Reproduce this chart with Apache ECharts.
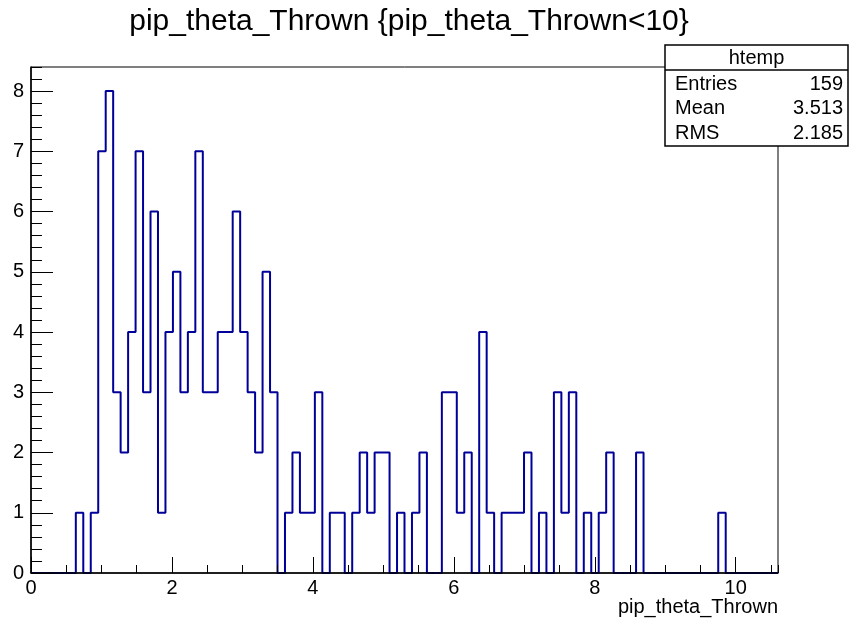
<!DOCTYPE html>
<html><head><meta charset="utf-8">
<script src="https://cdn.jsdelivr.net/npm/echarts@6/dist/echarts.min.js"></script>
<style>html,body{margin:0;padding:0;background:#fff}#c{width:850px;height:621px}</style>
</head><body><div id="c"></div>
<script>
const titleText = 'pip_theta_Thrown {pip_theta_Thrown<10}';
const xTitle = 'pip_theta_Thrown';
const xMin = 0, xMax = 10.6, nBins = 100;
const yMax = 8.4;
const counts = [
  0,0,0,0,0,0,1,0,1,7,
  8,3,2,4,7,3,6,1,4,5,
  3,4,7,3,3,4,4,6,4,3,
  2,5,3,0,1,2,1,1,3,0,
  1,1,0,1,2,1,2,2,0,1,
  0,1,2,0,0,3,3,1,2,0,
  4,1,0,1,1,1,2,0,1,0,
  3,1,3,0,1,0,1,2,0,0,
  0,2,0,0,0,0,0,0,0,0,
  0,0,1,0,0,0,0,0,0,0
];
const statsName = 'htemp';
const statsLabels = ['Entries', 'Mean', 'RMS'];
const statsValues = ['159', '3.513', '2.185'];

const FONT = 'Liberation Sans, Arial, sans-serif';
const binW = (xMax - xMin) / nBins;
const stepData = counts.map((c, i) => [xMin + i * binW, c]);
stepData.push([xMax, counts[counts.length - 1]]);

const chart = echarts.init(document.getElementById('c'), null, {renderer: 'canvas'});
const G = {left: 31, top: 67, width: 747, height: 506};
const statsBox = {x: 665, y: 45, w: 183, h: 101};
const graphics = [
  {type: 'rect', z: 100, shape: {x: statsBox.x, y: statsBox.y, width: statsBox.w, height: statsBox.h},
   style: {fill: '#fff', stroke: '#000', lineWidth: 1.5}},
  {type: 'line', z: 101, shape: {x1: statsBox.x, y1: 70, x2: statsBox.x + statsBox.w, y2: 70},
   style: {stroke: '#000', lineWidth: 1.5}},
  {type: 'text', z: 102, x: statsBox.x + statsBox.w / 2, y: 58,
   style: {text: statsName, font: '20px ' + FONT, fill: '#000', align: 'center', verticalAlign: 'middle'}},
  {type: 'text', z: 102, x: G.left + G.width, y: 607,
   style: {text: xTitle, font: '20px ' + FONT, fill: '#000', align: 'right', verticalAlign: 'middle'}}
];
statsLabels.forEach((lab, i) => {
  const cy = 84 + i * 24.5;
  graphics.push({type: 'text', z: 102, x: statsBox.x + 10, y: cy,
    style: {text: lab, font: '20px ' + FONT, fill: '#000', align: 'left', verticalAlign: 'middle'}});
  graphics.push({type: 'text', z: 102, x: statsBox.x + statsBox.w - 5, y: cy,
    style: {text: statsValues[i], font: '20px ' + FONT, fill: '#000', align: 'right', verticalAlign: 'middle'}});
});

chart.setOption({
  animation: false,
  backgroundColor: '#fff',
  title: {text: titleText, left: 404, top: 2, textAlign: 'center',
    textStyle: {fontFamily: FONT, fontSize: 30, fontWeight: 'normal', color: '#000'}},
  grid: Object.assign({show: true, borderColor: '#000', borderWidth: 1, backgroundColor: 'transparent',
    containLabel: false, outerBoundsMode: 'none'}, G),
  xAxis: [
    {type: 'value', min: xMin, max: xMax, interval: 2, position: 'bottom', z: 10,
     axisLine: {onZero: false, lineStyle: {color: '#000', width: 1.5}},
     axisTick: {inside: true, length: 16, lineStyle: {color: '#000', width: 1}},
     axisLabel: {color: '#000', fontFamily: FONT, fontSize: 20, margin: 5, showMaxLabel: false},
     splitLine: {show: false}},
    {type: 'value', min: xMin, max: xMax, interval: 0.5, position: 'bottom', z: 10,
     axisLine: {show: false, onZero: false},
     axisTick: {inside: true, length: 8, lineStyle: {color: '#000', width: 1}},
     axisLabel: {show: false}, splitLine: {show: false}}
  ],
  yAxis: [
    {type: 'value', min: 0, max: yMax, interval: 1, position: 'left', z: 10,
     axisLine: {show: true, onZero: false, lineStyle: {color: '#000', width: 1.5}},
     axisTick: {show: true, inside: true, length: 22, lineStyle: {color: '#000', width: 1}},
     axisLabel: {color: '#000', fontFamily: FONT, fontSize: 20, margin: 7, showMaxLabel: false},
     splitLine: {show: false}},
    {type: 'value', min: 0, max: yMax, interval: 0.2, position: 'left', z: 10,
     axisLine: {show: false, onZero: false},
     axisTick: {show: true, inside: true, length: 11, lineStyle: {color: '#000', width: 1}},
     axisLabel: {show: false}, splitLine: {show: false}}
  ],
  series: [{
    type: 'line', step: 'end', data: stepData, xAxisIndex: 0, yAxisIndex: 0,
    symbol: 'none', lineStyle: {color: '#000099', width: 2}, z: 1, clip: true
  }],
  graphic: graphics
});
</script></body></html>
